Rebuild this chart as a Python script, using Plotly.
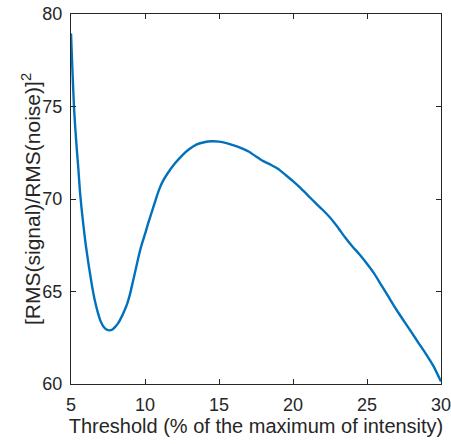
import plotly.graph_objects as go

threshold = [5.0, 5.1, 5.2, 5.3, 5.4, 5.5, 5.6, 5.7, 5.8, 5.9, 6.0, 6.2, 6.4, 6.6, 6.8,
             7.0, 7.2, 7.4, 7.6, 7.8, 8.0, 8.2, 8.4, 8.6, 8.8, 9.0, 9.2, 9.4, 9.6, 9.8,
             10.0, 10.2, 10.4, 10.6, 10.8, 11.0, 11.2, 11.5, 12.0, 12.5, 13.0, 13.5, 14.0,
             14.5, 15.0, 15.5, 16.0, 16.5, 17.0, 17.5, 18.0, 18.5, 19.0, 19.5, 20.0, 20.5,
             21.0, 21.5, 22.0, 22.5, 23.0, 23.5, 24.0, 24.5, 25.0, 25.5, 26.0, 26.5, 27.0,
             27.5, 28.0, 28.5, 29.0, 29.5, 30.0]
snr = [78.95, 76.9, 75.0, 73.7, 72.6, 71.6, 70.45, 69.6, 68.85, 68.15, 67.5, 66.4, 65.4,
       64.55, 63.9, 63.4, 63.1, 62.95, 62.9, 62.95, 63.1, 63.3, 63.6, 63.95, 64.35, 64.9,
       65.6, 66.3, 67.0, 67.6, 68.1, 68.65, 69.15, 69.65, 70.15, 70.6, 70.95, 71.35, 71.9,
       72.35, 72.7, 72.95, 73.07, 73.12, 73.1, 73.02, 72.9, 72.75, 72.57, 72.3, 72.05,
       71.85, 71.62, 71.3, 70.97, 70.6, 70.2, 69.8, 69.42, 69.0, 68.5, 67.95, 67.45,
       67.0, 66.5, 65.95, 65.3, 64.65, 64.0, 63.4, 62.8, 62.2, 61.6, 60.95, 60.13]

x_ticks = [5, 10, 15, 20, 25, 30]
y_ticks = [60, 65, 70, 75, 80]

axcol = "#262626"
fam = "Liberation Sans, Arial, sans-serif"
tickfont = dict(family=fam, size=18, color=axcol)
xtitlefont = dict(family=fam, size=20, color=axcol)
ytitlefont = dict(family=fam, size=21, color=axcol)

fig = go.Figure(go.Scatter(x=threshold, y=snr, mode="lines",
                           line=dict(color="#0072BD", width=2.4, shape="spline", smoothing=0.5),
                           hoverinfo="skip"))

common = dict(showgrid=False, zeroline=False, showline=True, linecolor=axcol, linewidth=1,
              mirror="ticks", ticks="inside", ticklen=5, tickcolor=axcol, tickwidth=1,
              tickfont=tickfont, automargin=False, ticklabeloverflow="allow")
fig.update_xaxes(range=[5, 30], tickvals=x_ticks, ticklabelstandoff=4,
                 title=dict(text="Threshold (% of the maximum of intensity)", font=xtitlefont, standoff=5),
                 **common)
fig.update_yaxes(range=[60, 80], tickvals=y_ticks, ticklabelstandoff=4, **common)
fig.add_annotation(text="[RMS(signal)/RMS(noise)]<sup>2</sup>", font=ytitlefont,
                   x=0, y=0.5, xref="paper", yref="paper", xanchor="center", yanchor="middle",
                   xshift=-40, textangle=-90, showarrow=False)
fig.update_layout(width=451, height=444, margin=dict(l=71, r=10, t=14, b=60),
                  plot_bgcolor="white", paper_bgcolor="white", showlegend=False)
fig.write_html("out.html", config={"displayModeBar": False},
               post_script="document.body.style.margin='0';")
